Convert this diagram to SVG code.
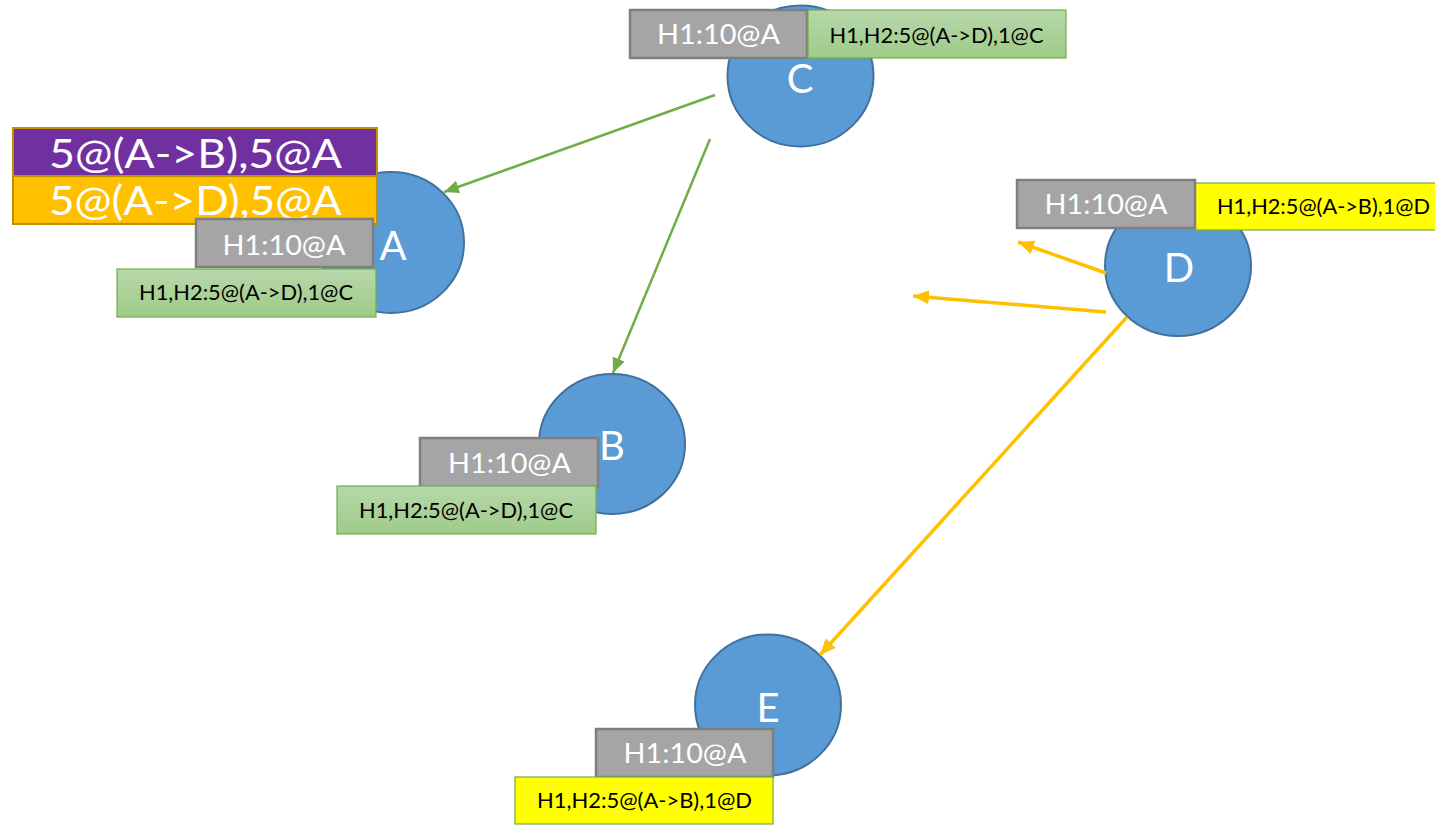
<svg xmlns="http://www.w3.org/2000/svg" width="1435" height="826" viewBox="0 0 1435 826">
  <style>
    .node { fill: #5b9bd5; stroke: #41719c; stroke-width: 2; }
    .letter { font-family: Lato, "Open Sans", "Liberation Sans", sans-serif; font-size: 40px; fill: #ffffff; text-anchor: middle; }
    .gray { fill: #a5a5a5; stroke: #7f7f7f; stroke-width: 2.5; }
    .grayText { font-family: Lato, "Open Sans", "Liberation Sans", sans-serif; font-size: 26px; fill: #ffffff; text-anchor: middle; }
    .green { fill: url(#greenFill); stroke: #70ad47; stroke-width: 1.2; }
    .yellow { fill: #ffff00; stroke: #70ad47; stroke-width: 1.2; }
    .small { font-family: Lato, "Open Sans", "Liberation Sans", sans-serif; font-size: 21px; fill: #000000; text-anchor: middle; }
    .big { font-family: Lato, "Open Sans", "Liberation Sans", sans-serif; font-size: 40px; fill: #ffffff; text-anchor: middle; }
    .purple { fill: #7030a0; stroke: #bf9000; stroke-width: 2; }
    .orange { fill: #ffc000; stroke: #bf9000; stroke-width: 2; }
    .edgeGreen { fill: none; stroke: #70ad47; stroke-width: 2.5; marker-end: url(#arrowGreen); }
    .edgeOrange { fill: none; stroke: #ffc000; stroke-width: 3.5; marker-end: url(#arrowOrange); }
  </style>
  <defs>
    <linearGradient id="greenFill" x1="0" y1="0" x2="0" y2="1">
      <stop offset="0" stop-color="#b7d8aa"/>
      <stop offset="1" stop-color="#9fcb88"/>
    </linearGradient>
    <marker id="arrowGreen" markerUnits="userSpaceOnUse" markerWidth="16" markerHeight="14" refX="15" refY="6.5" orient="auto">
      <path d="M0,0 L15,6.5 L0,13 Z" fill="#70ad47"/>
    </marker>
    <marker id="arrowOrange" markerUnits="userSpaceOnUse" markerWidth="17" markerHeight="15" refX="16" refY="7" orient="auto">
      <path d="M0,0 L16,7 L0,14 Z" fill="#ffc000"/>
    </marker>
  </defs>

  <g id="node-C">
    <ellipse class="node" cx="800.5" cy="76" rx="73" ry="70.5"/>
    <text class="letter" x="800" y="93">C</text>
    <rect class="gray" x="630" y="10" width="177" height="48"/>
    <text class="grayText" x="718.5" y="44" textLength="123" lengthAdjust="spacingAndGlyphs">H1:10@A</text>
    <rect class="green" x="808" y="10" width="258" height="48"/>
    <text class="small" x="936.5" y="42.5" textLength="214" lengthAdjust="spacingAndGlyphs">H1,H2:5@(A-&gt;D),1@C</text>
  </g>

  <g id="node-A">
    <ellipse class="node" cx="391" cy="242.5" rx="73" ry="70.5"/>
    <text class="letter" x="393" y="260">A</text>
    <rect class="purple" x="13" y="128" width="364" height="48"/>
    <text class="big" x="195.5" y="168" textLength="293" lengthAdjust="spacingAndGlyphs">5@(A-&gt;B),5@A</text>
    <rect class="orange" x="13" y="176" width="364" height="48"/>
    <text class="big" x="195.5" y="215" textLength="293" lengthAdjust="spacingAndGlyphs">5@(A-&gt;D),5@A</text>
    <rect class="gray" x="196" y="219" width="177" height="48"/>
    <text class="grayText" x="284" y="255" textLength="123" lengthAdjust="spacingAndGlyphs">H1:10@A</text>
    <rect class="green" x="117" y="269" width="259" height="48"/>
    <text class="small" x="246" y="300" textLength="214" lengthAdjust="spacingAndGlyphs">H1,H2:5@(A-&gt;D),1@C</text>
  </g>

  <g id="node-B">
    <ellipse class="node" cx="612" cy="444" rx="73" ry="70"/>
    <text class="letter" x="612" y="460">B</text>
    <rect class="gray" x="420" y="438" width="178" height="49"/>
    <text class="grayText" x="509.5" y="473" textLength="123" lengthAdjust="spacingAndGlyphs">H1:10@A</text>
    <rect class="green" x="337" y="486" width="259" height="48"/>
    <text class="small" x="466" y="518" textLength="214" lengthAdjust="spacingAndGlyphs">H1,H2:5@(A-&gt;D),1@C</text>
  </g>

  <g id="node-D">
    <ellipse class="node" cx="1178" cy="266" rx="73" ry="70"/>
    <text class="letter" x="1179" y="282">D</text>
    <rect class="yellow" x="1195" y="183" width="258" height="47"/>
    <text class="small" x="1323.5" y="214" textLength="213" lengthAdjust="spacingAndGlyphs">H1,H2:5@(A-&gt;B),1@D</text>
    <rect class="gray" x="1017" y="180" width="178" height="48"/>
    <text class="grayText" x="1106" y="214" textLength="123" lengthAdjust="spacingAndGlyphs">H1:10@A</text>
  </g>

  <g id="node-E">
    <ellipse class="node" cx="768" cy="705" rx="73" ry="70.5"/>
    <text class="letter" x="768" y="722">E</text>
    <rect class="gray" x="596" y="729" width="177" height="48"/>
    <text class="grayText" x="685" y="763" textLength="123" lengthAdjust="spacingAndGlyphs">H1:10@A</text>
    <rect class="yellow" x="515" y="777" width="258" height="47"/>
    <text class="small" x="644.5" y="808" textLength="215" lengthAdjust="spacingAndGlyphs">H1,H2:5@(A-&gt;B),1@D</text>
  </g>

  <g id="connectors">
    <line class="edgeGreen" x1="715" y1="95" x2="444" y2="192"/>
    <line class="edgeGreen" x1="710" y1="139" x2="613" y2="373"/>
    <line class="edgeOrange" x1="1106" y1="273" x2="1018" y2="242"/>
    <line class="edgeOrange" x1="1106" y1="312" x2="913" y2="296"/>
    <line class="edgeOrange" x1="1127" y1="317" x2="820" y2="655"/>
  </g>
</svg>
